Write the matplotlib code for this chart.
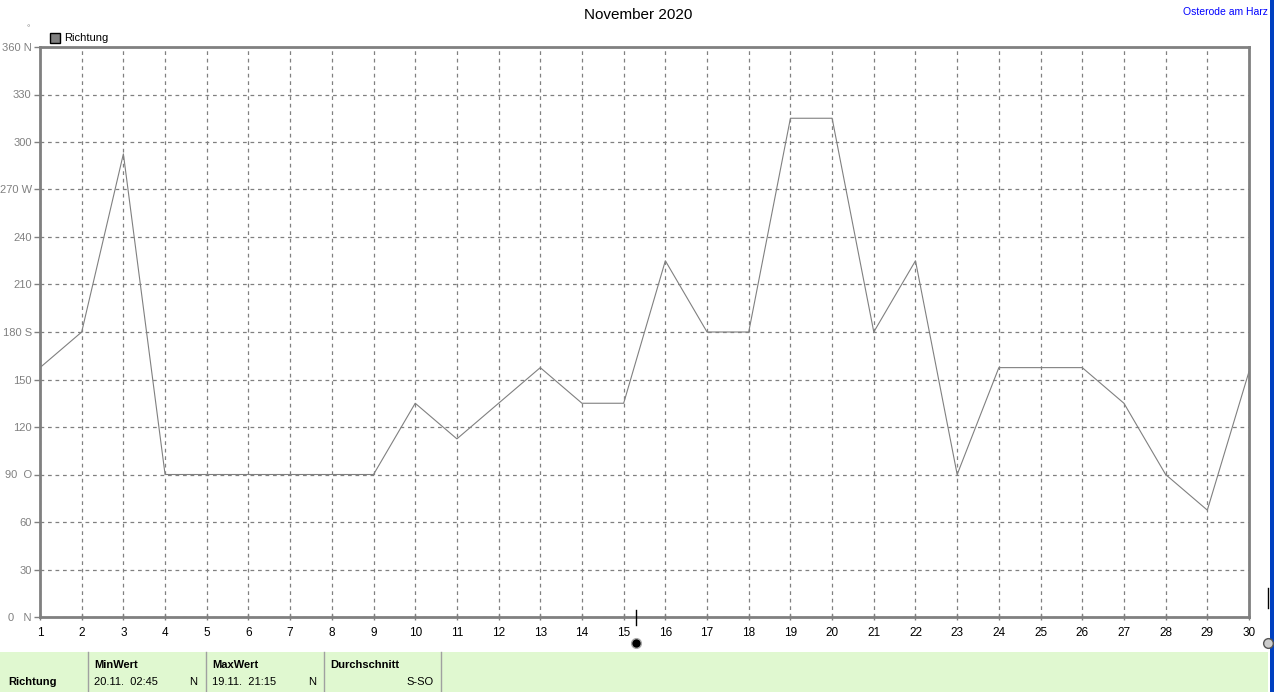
import numpy as np
import matplotlib.pyplot as plt
from matplotlib.patches import Rectangle

# Windrichtung je Tag (Grad)
tage = list(range(1, 31))
richtung = [157.5, 180, 292.5, 90, 90, 90, 90, 90, 90, 135,
            112.5, 135, 157.5, 135, 135, 225, 180, 180, 315, 315,
            180, 225, 90, 157.5, 157.5, 157.5, 135, 90, 67.5, 155]

y_ticks = [0, 30, 60, 90, 120, 150, 180, 210, 240, 270, 300, 330, 360]
y_labels = ['0   N', '30', '60', '90  O', '120', '150', '180 S', '210', '240',
            '270 W', '300', '330', '360 N']

tabelle_kopf = ['MinWert', 'MaxWert', 'Durchschnitt']
tabelle_werte = [('20.11.  02:45', 'N'), ('19.11.  21:15', 'N'), ('', 'S-SO')]

plt.rcParams['font.family'] = ['Liberation Sans', 'DejaVu Sans']
W, H = 1274, 692
fig = plt.figure(figsize=(W / 100, H / 100), dpi=100)

ax = fig.add_axes([40 / W, (H - 617) / H, (1249 - 40) / W, (617 - 47) / H])
ax.plot(tage, richtung, color='#808080', linewidth=0.8, zorder=3)
ax.set_xlim(1, 30)
ax.set_ylim(0, 360)
ax.set_xticks(tage)
ax.set_xticklabels([str(t) for t in tage], fontsize=8.5)
ax.set_yticks(y_ticks)
ax.set_yticklabels(y_labels, fontsize=8, color='#808080')
ax.tick_params(axis='x', length=5, width=1, color='#808080', direction='inout', pad=5)
ax.tick_params(axis='y', length=4, width=1, color='#808080', direction='out', pad=2)
ax.grid(True, linestyle=(0, (3, 3)), color='#808080', linewidth=0.9)
for s in ax.spines.values():
    s.set_color('#808080')
    s.set_linewidth(2)

# Titel und Ort
fig.text(638 / W, 1 - 15 / H, 'November 2020', ha='center', va='center', fontsize=11)
fig.text(1268 / W, 1 - 12 / H, 'Osterode am Harz', ha='right', va='center', fontsize=7.5, color='#0000ff')
fig.text(28 / W, 1 - 29 / H, '°', ha='center', va='center', fontsize=6, color='#808080')

# Legende
fig.patches.append(Rectangle((50 / W, 1 - 43 / H), 10 / W, 10 / H, transform=fig.transFigure,
                             facecolor='#808080', edgecolor='black', linewidth=1))
fig.text(64 / W, 1 - 38 / H, 'Richtung', ha='left', va='center', fontsize=8)

# Mondphasen-Markierungen
fig.add_artist(plt.Line2D([636 / W, 636 / W], [1 - 625 / H, 1 - 610 / H], color='black', linewidth=1))
fig.add_artist(plt.Line2D([635.5 / W], [1 - 643 / H], marker='o', markersize=7,
                          color='black', markeredgecolor='#aaaaaa'))
fig.add_artist(plt.Line2D([1268 / W, 1268 / W], [1 - 608 / H, 1 - 588 / H], color='black', linewidth=1))
fig.add_artist(plt.Line2D([1268 / W], [1 - 643 / H], marker='o', markersize=7,
                          color='#cccccc', markeredgecolor='#555555'))

# Tabelle unten
fig.patches.append(Rectangle((0, 0), 1268 / W, (H - 652) / H, transform=fig.transFigure,
                             facecolor='#e0f8d0', edgecolor='none'))
for xs in [88, 206, 324, 441]:
    fig.add_artist(plt.Line2D([xs / W, xs / W], [0, (H - 652) / H], color='#a0a0a0', linewidth=1))
fig.text(8 / W, 1 - 682 / H, 'Richtung', ha='left', va='center', fontsize=8, fontweight='bold')
x_links = [94, 212, 330]
x_rechts = [197, 316, 434]
for i in range(3):
    fig.text(x_links[i] / W, 1 - 665 / H, tabelle_kopf[i], ha='left', va='center',
             fontsize=8, fontweight='bold')
    fig.text(x_links[i] / W, 1 - 682 / H, tabelle_werte[i][0], ha='left', va='center', fontsize=8)
    fig.text(x_rechts[i] / W, 1 - 682 / H, tabelle_werte[i][1], ha='right', va='center', fontsize=8)

# blauer Rand rechts
fig.patches.append(Rectangle((1270 / W, 0), 4 / W, 1, transform=fig.transFigure,
                             facecolor='#0040c0', edgecolor='none'))

plt.savefig('out.png', dpi=100)
